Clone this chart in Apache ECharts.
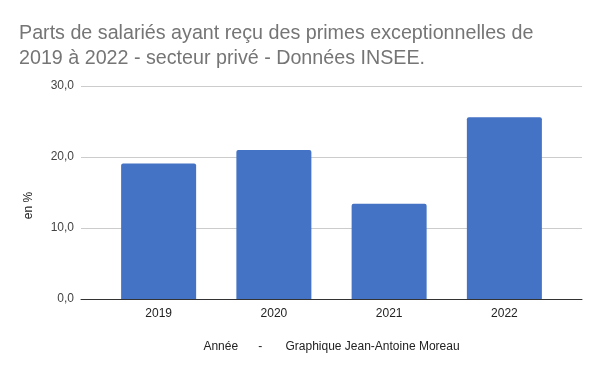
<!DOCTYPE html>
<html><head><meta charset="utf-8">
<script src="https://cdn.jsdelivr.net/npm/echarts@6/dist/echarts.min.js"></script>
<style>html,body{margin:0;padding:0;background:#fff}#c{width:600px;height:371px}</style>
</head><body><div id="c"></div>
<script>
const categories = ['2019', '2020', '2021', '2022'];
const values = [19.1, 21.0, 13.4, 25.6];
const yTicks = [0, 10, 20, 30];
const titleText = 'Parts de salariés ayant reçu des primes exceptionnelles de\n2019 à 2022 - secteur privé - Données INSEE.';
const xName = 'Année      -       Graphique Jean-Antoine Moreau';
const yName = 'en %';

const font = 'Liberation Sans, Arial, sans-serif';
const chart = echarts.init(document.getElementById('c'));
chart.setOption({
  animation: false,
  title: { text: titleText, left: 14, top: 16,
    textStyle: { fontFamily: font, fontSize: 19.7, fontWeight: 'normal', color: '#757575', lineHeight: 25 } },
  grid: [
    { left: 81, right: 18, top: 86, bottom: 72 },
    { left: 101, right: 38, top: 86, bottom: 72 }
  ],
  xAxis: [
    { gridIndex: 0, type: 'category', data: categories, axisLabel: { show: false }, axisTick: { show: false },
      axisLine: { lineStyle: { color: '#333', width: 1 } } },
    { gridIndex: 1, type: 'category', data: categories, axisTick: { show: false }, axisLine: { show: false },
      axisLabel: { fontFamily: font, fontSize: 12, color: '#222', margin: 9 },
      name: xName, nameLocation: 'middle', nameGap: 42,
      nameTextStyle: { fontFamily: font, fontSize: 12, color: '#222' } }
  ],
  yAxis: [
    { gridIndex: 0, type: 'value', min: yTicks[0], max: yTicks[yTicks.length - 1], interval: 10,
      axisLine: { show: false }, axisTick: { show: false },
      splitLine: { lineStyle: { color: '#ccc' } },
      axisLabel: { fontFamily: font, fontSize: 12, color: '#444', margin: 7,
        formatter: v => v.toFixed(1).replace('.', ',') },
      name: yName, nameLocation: 'middle', nameGap: 46, nameRotate: 90,
      nameTextStyle: { fontFamily: font, fontSize: 12, color: '#222', padding: [0, 26, 0, 0] } },
    { gridIndex: 1, type: 'value', min: yTicks[0], max: yTicks[yTicks.length - 1], interval: 10, show: false }
  ],
  series: [{
    type: 'bar', xAxisIndex: 1, yAxisIndex: 1, data: values, barWidth: 75,
    itemStyle: { color: '#4472c4', borderRadius: [2, 2, 0, 0] }
  }]
});
</script></body></html>
